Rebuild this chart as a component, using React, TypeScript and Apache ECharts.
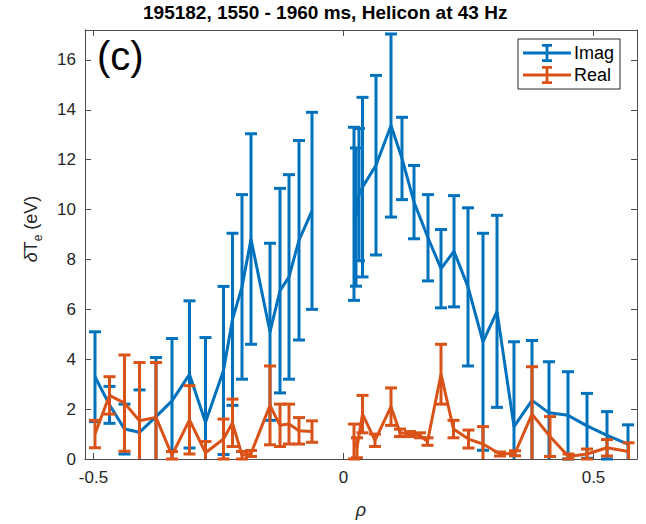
import React, { useEffect, useRef } from "react";
import * as echarts from "echarts";

// ---------- data ----------
const leftRho = [-0.497, -0.468, -0.438, -0.408, -0.375, -0.343, -0.308, -0.276, -0.24, -0.222, -0.203, -0.185, -0.147, -0.127, -0.109, -0.089, -0.063];
const imagLeft = [3.3, 2.17, 1.2, 1.07, 1.7, 2.33, 3.39, 1.47, 3.55, 5.6, 6.9, 8.82, 5.1, 6.75, 7.3, 8.77, 9.95];
const imagLeftErr = [1.8, 0.74, 1.0, 1.7, 2.37, 2.5, 2.95, 3.4, 3.37, 3.45, 3.7, 4.22, 3.55, 4.1, 4.1, 4.0, 3.95];
const realLeft = [1.0, 2.55, 2.24, 1.53, 1.67, 0.15, 1.57, 0.25, 0.8, 1.45, 0.15, 0.22, 2.15, 1.35, 1.4, 1.13, 1.1];
const realLeftErr = [0.55, 0.75, 1.93, 2.34, 2.2, 0.15, 1.37, 0.45, 0.8, 0.95, 0.15, 0.12, 1.58, 0.85, 0.8, 0.53, 0.43];

const imagRightRho = [0.021, 0.025, 0.031, 0.038, 0.065, 0.095, 0.117, 0.141, 0.169, 0.195, 0.221, 0.249, 0.279, 0.307, 0.341, 0.377, 0.411, 0.449, 0.487, 0.527, 0.569];
const imagRight = [9.83, 9.7, 10.6, 10.9, 11.78, 13.37, 12.05, 10.3, 8.87, 7.63, 8.33, 6.9, 4.7, 5.92, 1.3, 2.35, 1.85, 1.75, 1.33, 0.95, 0.6];
const imagRightErr = [3.47, 2.77, 2.65, 3.6, 3.6, 3.67, 1.65, 1.47, 1.73, 1.57, 2.23, 3.17, 4.35, 3.85, 3.4, 2.4, 2.05, 1.75, 1.3, 0.95, 0.77];

const realRightRho = [0.021, 0.027, 0.038, 0.063, 0.095, 0.113, 0.133, 0.153, 0.168, 0.195, 0.22, 0.25, 0.279, 0.313, 0.343, 0.377, 0.413, 0.45, 0.487, 0.527, 0.57];
const realRight = [0.7, 0.45, 1.8, 0.75, 2.1, 1.05, 1.0, 0.95, 0.7, 3.4, 1.2, 0.8, 0.6, 0.2, 0.23, 1.8, 0.9, 0.1, 0.2, 0.45, 0.3];
const realRightErr = [0.7, 0.4, 0.75, 0.25, 0.75, 0.15, 0.1, 0.1, 0.15, 1.2, 0.35, 0.36, 0.7, 0.08, 0.1, 1.9, 0.8, 0.1, 0.2, 0.33, 0.35];

const xTicks = [-0.5, 0, 0.5];
const yTicks = [0, 2, 4, 6, 8, 10, 12, 14, 16];
const titleText = "195182, 1550 - 1960 ms, Helicon at 43 Hz";
const seriesNames = ["Imag", "Real"];

// ---------- styling ----------
const BLUE = "#0072BD";
const ORANGE = "#D95319";
const AXIS = "#4d4d4d";
const TXT = "#262626";
const X_MIN = -0.517;
const X_MAX = 0.587;
const Y_MIN = 0;
const Y_MAX = 17.2;
const FONT = "'Liberation Sans', Arial, sans-serif";
const LW = 3;
const CAP = 6;

const legendIcon =
  "path://M0,7.6H48V10.4H0Z M22.6,0H25.4V18H22.6Z M19,0H29V2.8H19Z M19,15.2H29V18H19Z";

function pairs(rho: number[], v: number[]) {
  return rho.map((r, i) => [r, v[i]]);
}
function triples(rho: number[], v: number[], e: number[]) {
  return rho.map((r, i) => [r, v[i], e[i]]);
}

function makeRender(color: string) {
  return (params: any, api: any) => {
    const x = api.value(0);
    const y = api.value(1);
    const e = api.value(2);
    const lo = y - e;
    const hi = y + e;
    const loC = Math.max(lo, Y_MIN);
    const hiC = Math.min(hi, Y_MAX);
    const p1 = api.coord([x, loC]);
    const p2 = api.coord([x, hiC]);
    const style = { stroke: color, lineWidth: LW, fill: "none" };
    const children: any[] = [
      { type: "line", shape: { x1: p1[0], y1: p1[1], x2: p2[0], y2: p2[1] }, style },
    ];
    if (lo >= Y_MIN) {
      children.push({ type: "line", shape: { x1: p1[0] - CAP, y1: p1[1], x2: p1[0] + CAP, y2: p1[1] }, style });
    }
    if (hi <= Y_MAX) {
      children.push({ type: "line", shape: { x1: p2[0] - CAP, y1: p2[1], x2: p2[0] + CAP, y2: p2[1] }, style });
    }
    return { type: "group", children };
  };
}

function lineSeries(name: string, data: number[][], color: string, z: number) {
  return {
    name,
    type: "line",
    data,
    showSymbol: false,
    symbol: "none",
    lineStyle: { color, width: LW },
    itemStyle: { color },
    z,
    silent: true,
  };
}
function errSeries(name: string, data: number[][], color: string, z: number) {
  return {
    name: name + " err",
    type: "custom",
    data,
    renderItem: makeRender(color),
    encode: { x: 0, y: 1 },
    z,
    silent: true,
  };
}

export default function App() {
  const ref = useRef<HTMLDivElement>(null);
  useEffect(() => {
    if (!ref.current) return;
    const chart = echarts.init(ref.current, undefined, { renderer: "svg" });
    const axisCommon = {
      type: "value",
      axisLine: { show: true, onZero: false, lineStyle: { color: AXIS, width: 1 } },
      splitLine: { show: false },
    };
    chart.setOption({
      animation: false,
      backgroundColor: "#ffffff",
      title: {
        text: titleText,
        left: 143,
        top: 3,
        padding: 0,
        textStyle: { fontFamily: FONT, fontSize: 19, fontWeight: "bold", color: "#000" },
      },
      legend: {
        data: seriesNames.map((n) => ({ name: n, icon: legendIcon })),
        orient: "vertical",
        left: 518,
        top: 39,
        padding: [5, 6, 5, 5],
        itemGap: 4,
        itemWidth: 48,
        itemHeight: 18,
        borderColor: TXT,
        borderWidth: 1,
        backgroundColor: "#fff",
        itemStyle: { borderWidth: 0 },
        textStyle: { fontFamily: FONT, fontSize: 18, color: "#000", padding: [0, 0, 0, -2] },
        selectedMode: false,
      },
      grid: { left: 85, right: 9, top: 30, bottom: 62 },
      xAxis: [
        {
          ...axisCommon,
          position: "bottom",
          min: X_MIN,
          max: X_MAX,
          axisTick: { show: true, inside: true, length: 6, customValues: xTicks, lineStyle: { color: AXIS } },
          axisLabel: { customValues: xTicks, fontFamily: FONT, fontSize: 17, color: TXT, margin: 10 },
          name: "ρ",
          nameLocation: "middle",
          nameGap: 42,
          nameTextStyle: { fontFamily: FONT, fontSize: 18, fontStyle: "italic", color: TXT },
        },
        {
          ...axisCommon,
          position: "top",
          min: X_MIN,
          max: X_MAX,
          axisTick: { show: true, inside: true, length: 6, customValues: xTicks, lineStyle: { color: AXIS } },
          axisLabel: { show: false },
        },
      ],
      yAxis: [
        {
          ...axisCommon,
          position: "left",
          min: Y_MIN,
          max: Y_MAX,
          axisTick: { show: true, inside: true, length: 6, customValues: yTicks, lineStyle: { color: AXIS } },
          axisLabel: { customValues: yTicks, fontFamily: FONT, fontSize: 17, color: TXT, margin: 9 },
        },
        {
          ...axisCommon,
          position: "right",
          min: Y_MIN,
          max: Y_MAX,
          axisTick: { show: true, inside: true, length: 6, customValues: yTicks, lineStyle: { color: AXIS } },
          axisLabel: { show: false },
        },
      ],
      graphic: [
        {
          type: "text",
          left: 97,
          top: 36,
          style: { text: "(c)", font: "40px 'Liberation Sans', Arial, sans-serif", fill: "#000" },
        },
        {
          type: "text",
          x: 31,
          y: 229,
          rotation: Math.PI / 2,
          style: {
            text: "{d|δ}{n|T}{s|e}{n| (eV)}",
            align: "center",
            verticalAlign: "middle",
            rich: {
              d: { fontFamily: FONT, fontSize: 18, fontStyle: "italic", fill: TXT, lineHeight: 26 },
              n: { fontFamily: FONT, fontSize: 18, fill: TXT, lineHeight: 26 },
              s: { fontFamily: FONT, fontSize: 12, fill: TXT, lineHeight: 26, verticalAlign: "bottom" },
            },
          },
        },
      ],
      series: [
        lineSeries("Imag", pairs(leftRho, imagLeft), BLUE, 2),
        lineSeries("Imag", pairs(imagRightRho, imagRight), BLUE, 2),
        errSeries("Imag", triples(leftRho, imagLeft, imagLeftErr), BLUE, 2),
        errSeries("Imag", triples(imagRightRho, imagRight, imagRightErr), BLUE, 2),
        lineSeries("Real", pairs(leftRho, realLeft), ORANGE, 3),
        lineSeries("Real", pairs(realRightRho, realRight), ORANGE, 3),
        errSeries("Real", triples(leftRho, realLeft, realLeftErr), ORANGE, 3),
        errSeries("Real", triples(realRightRho, realRight, realRightErr), ORANGE, 3),
      ],
    });
    return () => chart.dispose();
  }, []);
  return <div ref={ref} style={{ width: 646, height: 524, position: "absolute", left: 0, top: 0 }} />;
}
